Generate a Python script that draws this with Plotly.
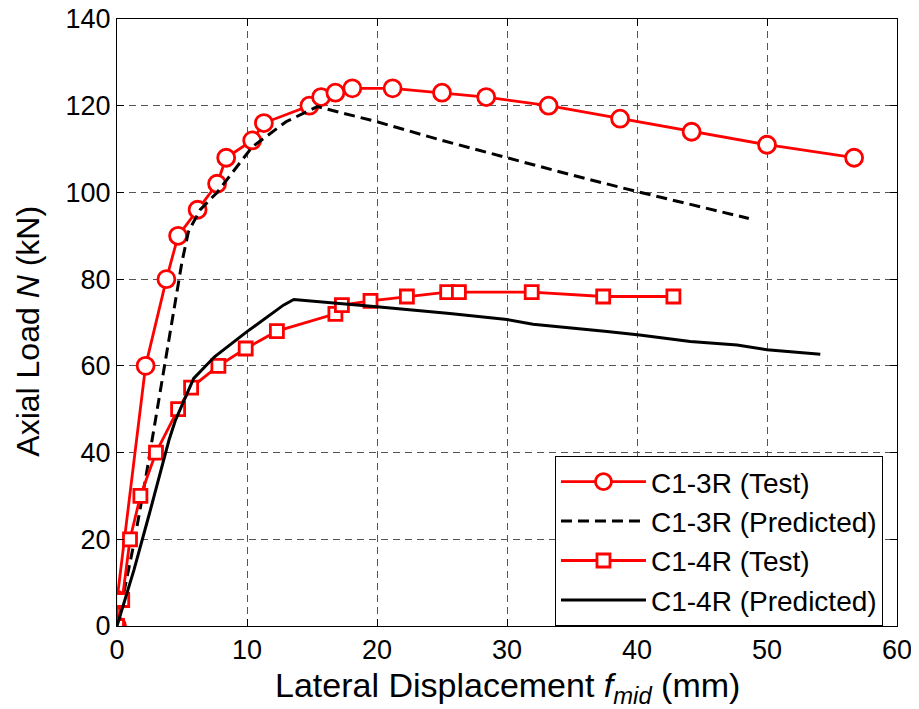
import plotly.graph_objects as go

# ---- data ----
c13_test_x = [0, 0, 2.2, 3.8, 4.7, 6.2, 7.7, 8.4, 10.4, 11.3, 14.8, 15.7, 16.8, 18.1, 21.2, 25.0, 28.4, 33.2, 38.7, 44.2, 50.0, 56.7]
c13_test_y = [0, 6, 60, 80, 90, 96, 102, 108, 112, 116, 120, 122, 123, 124, 124, 123, 122, 120, 117, 114, 111, 108]

c13_pred_x = [0, 1.3, 2.2, 3.6, 5.0, 5.5, 6.4, 7.7, 10.4, 13.0, 15.4, 20.0, 25.0, 30.0, 35.0, 40.0, 45.0, 48.6]
c13_pred_y = [0, 19, 34, 59, 84, 91, 96, 100, 110.5, 116.3, 119.8, 116.3, 112, 108, 104, 100.2, 96.5, 94]

c14_test_x = [0, 0.4, 1.0, 1.8, 3.0, 4.7, 5.7, 7.8, 9.9, 12.3, 16.8, 17.3, 19.5, 22.3, 25.4, 26.3, 31.9, 37.4, 42.8]
c14_test_y = [0, 6, 20, 30, 40, 50, 55, 60, 64, 68, 72, 74, 75, 76, 77, 77, 77, 76, 76]

c14_pred_x = [0, 1.3, 2.5, 4.0, 4.5, 5.9, 7.5, 10.0, 12.8, 13.6, 20.2, 25.6, 30.0, 32.0, 37.7, 40.2, 44.1, 47.7, 50.0, 54.1]
c14_pred_y = [0, 12.9, 26, 42.9, 47.5, 57.1, 62.1, 67.9, 74, 75.3, 73.6, 72.1, 70.7, 69.6, 67.9, 67.1, 65.6, 64.8, 63.7, 62.7]

series_names = ["C1-3R (Test)", "C1-3R (Predicted)", "C1-4R (Test)", "C1-4R (Predicted)"]
x_ticks = [0, 10, 20, 30, 40, 50, 60]
y_ticks = [0, 20, 40, 60, 80, 100, 120, 140]

FONT = "Arial, Liberation Sans, sans-serif"
RED = "#ff0000"

fig = go.Figure()
fig.add_trace(go.Scatter(
    x=c13_test_x, y=c13_test_y, name=series_names[0], mode="lines+markers",
    line=dict(color=RED, width=2.8),
    marker=dict(symbol="circle", size=17, color="white", line=dict(color=RED, width=2.8))))
fig.add_trace(go.Scatter(
    x=c13_pred_x, y=c13_pred_y, name=series_names[1], mode="lines",
    line=dict(color="black", width=3, dash="11px,6px")))
fig.add_trace(go.Scatter(
    x=c14_test_x, y=c14_test_y, name=series_names[2], mode="lines+markers",
    line=dict(color=RED, width=2.8),
    marker=dict(symbol="square", size=13, color="white", line=dict(color=RED, width=2.8))))
fig.add_trace(go.Scatter(
    x=c14_pred_x, y=c14_pred_y, name=series_names[3], mode="lines",
    line=dict(color="black", width=3)))

axis_common = dict(
    showline=True, linecolor="black", linewidth=1, mirror="ticks",
    ticks="inside", ticklen=7, tickcolor="black", tickwidth=1,
    showgrid=True, gridcolor="#555555", gridwidth=1, griddash="7px,5px",
    zeroline=False, tickfont=dict(family=FONT, size=27, color="black"),
    ticklabeloverflow="allow",
)

fig.update_xaxes(range=[0, 60], tickvals=x_ticks, ticktext=[str(v) for v in x_ticks], **axis_common)
fig.update_yaxes(range=[0, 140], tickvals=y_ticks, ticktext=[str(v) for v in y_ticks], **axis_common)

# page body has an 8px margin, so the figure is 8px smaller and margins shifted
fig.update_layout(
    width=911, height=701,
    margin=dict(l=109, r=22, t=11, b=83, autoexpand=False),
    paper_bgcolor="white", plot_bgcolor="white",
    font=dict(family=FONT, color="black"),
    showlegend=True,
    legend=dict(
        x=0.5615, xanchor="left", y=0.0, yanchor="bottom",
        bgcolor="white", bordercolor="black", borderwidth=1,
        font=dict(family=FONT, size=28, color="black"),
        itemwidth=85,
    ),
    annotations=[
        dict(text="Lateral Displacement <i>f</i><sub><i>mid</i></sub> (mm)",
             xref="paper", yref="paper", x=0.5, y=-0.062, xanchor="center", yanchor="top",
             showarrow=False, font=dict(family=FONT, size=34, color="black")),
        dict(text="Axial Load <i>N</i> (kN)",
             xref="paper", yref="paper", x=-0.114, y=0.485, xanchor="center", yanchor="middle",
             textangle=-90, showarrow=False, font=dict(family=FONT, size=32, color="black")),
    ],
)

fig.write_html("out.html")
